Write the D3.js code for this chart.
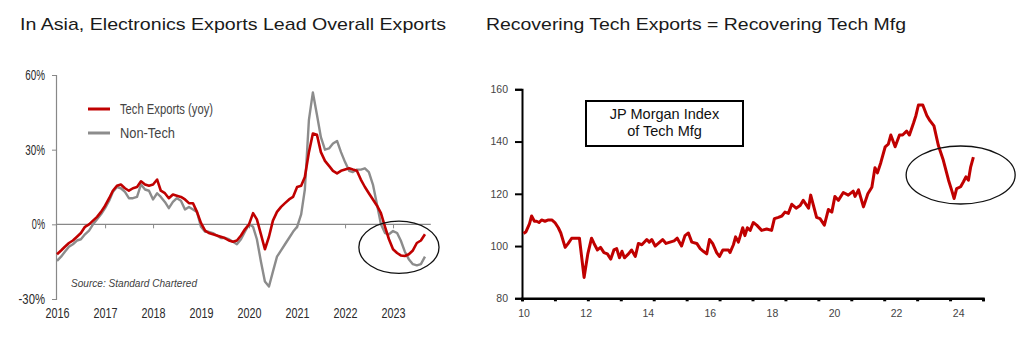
<!DOCTYPE html>
<html>
<head>
<meta charset="utf-8">
<script src="https://cdn.jsdelivr.net/npm/d3@7/dist/d3.min.js"></script>
<style>
  body { margin: 0; background: #fff; }
  svg { display: block; }
  .narrow { font-family: "Liberation Sans Narrow", "Liberation Sans", Arial, sans-serif; }
</style>
</head>
<body>
<script>
const width = 1024;
const height = 352;

// ---- left chart data (monthly, Jan 2016 .. Sep 2023, % yoy)
const techExports = [
  -12, -10.5, -9, -7.5, -6.5, -5, -3.5, -1, 0, 1.5, 3, 5,
  7.5, 10.5, 13.5, 15.5, 16, 14.5, 13.5, 14.5, 15, 17.3, 16, 15.5,
  16, 18, 13.5, 12.5, 10.5, 12, 11.5, 11, 10, 8.5, 8.5, 5,
  0.5, -2.5, -3.5, -4, -4.5, -5, -5.5, -6.5, -7, -6.5, -4.5, -2,
  0, 4.5, 2, -4, -10, -5, 1.5, 5, 7, 8.5, 10, 11,
  15, 15.5, 19, 29, 36.5, 36, 29, 25.5, 23.5, 21.5, 20.5, 21.5,
  22, 22.5, 22, 21.5, 18, 15, 12.5, 10, 7.5, 4.5, -1, -6,
  -10, -11.5, -12.5, -12.7, -12, -10.5, -7.5, -6.5, -4
];
const nonTechExports = [
  -14.7, -13, -11, -9, -8, -6.5, -6, -4, -2.5, 0, 2, 4,
  6.5, 9.5, 13, 15, 14.5, 13, 10.5, 10.5, 11, 16, 14, 13.5,
  10, 12.5, 11, 9, 6.5, 9, 10.5, 9.5, 6, 7, 6, 5,
  -1, -3, -3, -3.5, -4.5, -5.5, -5.5, -6, -7, -8, -6, -3,
  0, -1, -6, -15, -23, -25, -19, -13, -10.5, -8, -5.5, -3,
  -1, 4, 14, 42, 53, 44, 35, 30, 30.5, 32.5, 33.5, 29,
  25, 21.5, 21, 22, 22, 22.5, 21, 16, 8, 0, -3.5, -4,
  -2.7, -3.5, -6.5, -11, -14, -16, -16.5, -16, -13
];
const leftStart = new Date(2016, 0, 1);
const leftYears = [2016, 2017, 2018, 2019, 2020, 2021, 2022, 2023];
const leftYTicks = [-30, 0, 30, 60];
const leftLegend = ["Tech Exports (yoy)", "Non-Tech"];

// ---- right chart data (JP Morgan Index of Tech Mfg), x in years since 2000
const mfgYear = [
  10.0, 10.08, 10.19, 10.26, 10.35, 10.42, 10.5, 10.58, 10.69, 10.8, 10.91, 11.01,
  11.12, 11.2, 11.34, 11.44, 11.55, 11.71, 11.8, 11.95, 12.07, 12.19, 12.27, 12.38,
  12.48, 12.59, 12.7, 12.81, 12.91, 13.0, 13.09, 13.17, 13.25, 13.38, 13.48, 13.6,
  13.7, 13.81, 13.97, 14.05, 14.13, 14.24, 14.34, 14.48, 14.59, 14.72, 14.85, 14.95,
  15.09, 15.2, 15.31, 15.42, 15.58, 15.69, 15.79, 15.9, 15.99, 16.09, 16.22, 16.31,
  16.42, 16.6, 16.65, 16.76, 16.83, 16.92, 17.06, 17.13, 17.21, 17.3, 17.4, 17.51,
  17.67, 17.83, 17.99, 18.08, 18.21, 18.32, 18.42, 18.53, 18.64, 18.78, 18.91, 19.01,
  19.18, 19.25, 19.44, 19.55, 19.69, 19.82, 19.93, 20.03, 20.14, 20.3, 20.46, 20.62,
  20.68, 20.79, 20.95, 21.09, 21.22, 21.32, 21.4, 21.51, 21.65, 21.75, 21.83, 21.97,
  22.11, 22.21, 22.34, 22.43, 22.56, 22.64, 22.72, 22.86, 22.99, 23.09, 23.22, 23.36,
  23.52, 23.69, 23.79, 23.87, 23.95, 24.08, 24.17, 24.25, 24.33, 24.4, 24.49
];
const mfgIndex = [
  104.8, 105.5, 108.5, 111.5, 109.5, 109.5, 109, 110, 109.5, 110, 110, 109,
  107, 105, 99.5, 101, 103, 103, 103, 88, 97, 103, 101, 98.5,
  99.5, 97.5, 97, 95, 98.5, 99, 95.5, 98, 95.5, 97, 98.5, 96,
  101, 100.5, 102.5, 101.5, 102.5, 100, 101, 102.5, 101, 101.5, 102, 103,
  100, 104, 105, 101.5, 101, 99, 98, 97, 102.5, 101, 97.5, 96,
  98.5, 98.5, 97.5, 100.5, 103.5, 101.5, 107, 104, 107, 106, 109, 108,
  106, 106.5, 106, 110.5, 111, 111.5, 113, 112.5, 116, 114.5, 115.5, 117.5,
  114.5, 119.5, 111, 110.5, 108, 114, 113, 119, 117.5, 120.5, 119.5, 121,
  119, 121.5, 115, 120, 122.5, 130, 128, 132, 138, 139, 142.5, 138,
  142.5, 142.5, 144, 142.5, 147, 150, 154, 154, 150, 148, 146, 138.6,
  132.9, 125.2, 121.4, 118.2, 122, 122.7, 124.6, 126.5, 125.2, 130.1, 134
];
const rightXLabels = [10, 12, 14, 16, 18, 20, 22, 24];
const rightYTicks = [80, 100, 120, 140, 160];
const boxLines = ["JP Morgan Index", "of Tech Mfg"];

const red = "#c00000";
const grey = "#8c8c8c";

const svg = d3.select("body").append("svg")
    .attr("width", width)
    .attr("height", height)
    .attr("viewBox", [0, 0, width, height]);

svg.append("rect").attr("width", width).attr("height", height).attr("fill", "#fff");

// titles
svg.append("text")
    .attr("x", 20).attr("y", 30)
    .attr("font-family", "Liberation Sans, Arial, sans-serif")
    .attr("font-size", 17).attr("fill", "#1a1a1a")
    .attr("textLength", 426).attr("lengthAdjust", "spacingAndGlyphs")
    .text("In Asia, Electronics Exports Lead Overall Exports");
svg.append("text")
    .attr("x", 486).attr("y", 30)
    .attr("font-family", "Liberation Sans, Arial, sans-serif")
    .attr("font-size", 17).attr("fill", "#1a1a1a")
    .attr("textLength", 420).attr("lengthAdjust", "spacingAndGlyphs")
    .text("Recovering Tech Exports = Recovering Tech Mfg");

// ================= LEFT CHART =================
const monthDate = i => d3.timeMonth.offset(leftStart, i);

const xL = d3.scaleTime()
    .domain([new Date(2016, 0, 1), new Date(2024, 0, 1)])
    .range([57, 441]);
const yL = d3.scaleLinear().domain([-30, 60]).range([299, 75]);

const left = svg.append("g");

// squeeze narrow labels to the width they have in the original
function squeeze(sel, perChar) {
  sel.each(function() {
    const t = d3.select(this);
    t.attr("textLength", t.text().length * perChar).attr("lengthAdjust", "spacingAndGlyphs");
  });
}

// y axis
const yAxisL = left.append("g")
    .attr("transform", `translate(${xL.range()[0] - 1},0)`)
    .call(d3.axisLeft(yL).tickValues(leftYTicks).tickSize(4).tickPadding(7)
      .tickFormat(d => d + "%"));
yAxisL.select(".domain").attr("stroke", "#888").attr("stroke-width", 1.2);
yAxisL.selectAll(".tick line").attr("stroke", "#888");
yAxisL.selectAll("text").attr("class", "narrow").attr("font-size", 14).attr("fill", "#2a2a2a")
    .call(squeeze, 6.6);

// zero line with year ticks
left.append("line")
    .attr("x1", xL.range()[0] - 1).attr("x2", xL(new Date(2023, 9, 15)))
    .attr("y1", yL(0)).attr("y2", yL(0))
    .attr("stroke", "#888").attr("stroke-width", 1.2);
left.append("g")
    .attr("transform", `translate(0,${yL(0)})`)
    .call(d3.axisBottom(xL).tickValues(leftYears.slice(1).map(y => new Date(y, 0, 1)))
      .tickSize(4).tickFormat(""))
    .call(g => g.select(".domain").remove())
    .selectAll("line").attr("stroke", "#888");

// year labels
const xAxisL = left.append("g")
    .attr("transform", `translate(0,${yL(-30)})`)
    .call(d3.axisBottom(xL).tickValues(leftYears.map(y => new Date(y, 0, 1)))
      .tickSize(0).tickPadding(9).tickFormat(d3.timeFormat("%Y")));
xAxisL.select(".domain").remove();
xAxisL.selectAll("text").attr("class", "narrow").attr("font-size", 14).attr("fill", "#2a2a2a")
    .call(squeeze, 6);

const lineL = d3.line()
    .x((d, i) => xL(monthDate(i)))
    .y(d => yL(d));

left.append("path").datum(nonTechExports)
    .attr("fill", "none").attr("stroke", grey).attr("stroke-width", 2.4)
    .attr("stroke-linejoin", "round")
    .attr("d", lineL);
left.append("path").datum(techExports)
    .attr("fill", "none").attr("stroke", red).attr("stroke-width", 2.6)
    .attr("stroke-linejoin", "round")
    .attr("d", lineL);

// legend
const legendL = left.append("g").attr("transform", "translate(88,109)");
leftLegend.forEach((name, i) => {
  const row = legendL.append("g").attr("transform", `translate(0,${i * 24})`);
  row.append("line").attr("x1", 0).attr("x2", 22).attr("y1", 0).attr("y2", 0)
      .attr("stroke", i === 0 ? red : grey).attr("stroke-width", 3);
  row.append("text").attr("x", 32).attr("y", 0).attr("dy", "0.35em")
      .attr("class", "narrow").attr("font-size", 15).attr("fill", "#444")
      .attr("textLength", i === 0 ? 93 : 55).attr("lengthAdjust", "spacingAndGlyphs")
      .text(name);
});

left.append("text")
    .attr("x", 71).attr("y", 287)
    .attr("font-family", "Liberation Sans, Arial, sans-serif")
    .attr("font-style", "italic").attr("font-size", 10).attr("fill", "#404040")
    .attr("textLength", 126).attr("lengthAdjust", "spacingAndGlyphs")
    .text("Source: Standard Chartered");

// circled area
const leftRing = { date: new Date(2023, 1, 15), value: -9.2, months: 10.5, spread: 10.5 };
left.append("ellipse")
    .attr("cx", xL(leftRing.date)).attr("cy", yL(leftRing.value))
    .attr("rx", xL(d3.timeMonth.offset(leftStart, leftRing.months)) - xL(leftStart))
    .attr("ry", yL(0) - yL(leftRing.spread))
    .attr("fill", "none").attr("stroke", "#111").attr("stroke-width", 1.3);

// ================= RIGHT CHART =================
const xR = d3.scaleLinear().domain([9.95, 24.8]).range([522, 983]);
const yR = d3.scaleLinear().domain([80, 160]).range([298.3, 89.3]);

const right = svg.append("g");

const yAxisR = right.append("g")
    .attr("transform", `translate(${xR.range()[0]},0)`)
    .call(d3.axisLeft(yR).tickValues(rightYTicks).tickSize(7).tickPadding(7));
yAxisR.select(".domain").attr("stroke", "#000").attr("stroke-width", 2);
yAxisR.selectAll(".tick line").attr("stroke", "#000").attr("stroke-width", 2);
yAxisR.selectAll("text")
    .attr("font-family", "Liberation Sans, Arial, sans-serif")
    .attr("font-size", 10.5).attr("fill", "#444");

// bottom axis: marks spaced evenly, labels every two years
const markCount = 14;
const xMarks = d3.range(markCount + 1).map(i => xR.domain()[0] + i * (xR.domain()[1] - xR.domain()[0]) / markCount);
const xAxisR = right.append("g")
    .attr("transform", `translate(0,${yR(80)})`)
    .call(d3.axisBottom(xR).tickValues(xMarks).tickSize(3).tickFormat(""));
xAxisR.select(".domain").attr("stroke", "#000").attr("stroke-width", 2.4);
xAxisR.selectAll(".tick line").attr("stroke", "#000").attr("stroke-width", 3);

const xLabelsR = right.append("g")
    .attr("transform", `translate(0,${yR(80)})`)
    .call(d3.axisBottom(xR).tickValues(rightXLabels).tickSize(0).tickPadding(11));
xLabelsR.select(".domain").remove();
xLabelsR.selectAll("text")
    .attr("font-family", "Liberation Sans, Arial, sans-serif")
    .attr("font-size", 10.5).attr("fill", "#444");

const lineR = d3.line()
    .x((d, i) => xR(mfgYear[i]))
    .y(d => yR(d));

right.append("path").datum(mfgIndex)
    .attr("fill", "none").attr("stroke", red).attr("stroke-width", 3)
    .attr("stroke-linejoin", "round")
    .attr("d", lineR);

// text box
const box = right.append("g").attr("transform", "translate(586,101)");
box.append("rect").attr("width", 157).attr("height", 45)
    .attr("fill", "#fff").attr("stroke", "#000").attr("stroke-width", 2);
boxLines.forEach((t, i) => {
  box.append("text")
      .attr("x", 78.5).attr("y", 13 + i * 17).attr("dy", "0.35em")
      .attr("text-anchor", "middle")
      .attr("font-family", "Liberation Sans, Arial, sans-serif")
      .attr("font-size", 14.5).attr("fill", "#111")
      .text(t);
});

const rightRing = { year: 24.08, value: 127.2, years: 1.756, spread: 11.1 };
right.append("ellipse")
    .attr("cx", xR(rightRing.year)).attr("cy", yR(rightRing.value))
    .attr("rx", xR(rightRing.year + rightRing.years) - xR(rightRing.year))
    .attr("ry", yR(100) - yR(100 + rightRing.spread))
    .attr("fill", "none").attr("stroke", "#111").attr("stroke-width", 1.3);
</script>
</body>
</html>
